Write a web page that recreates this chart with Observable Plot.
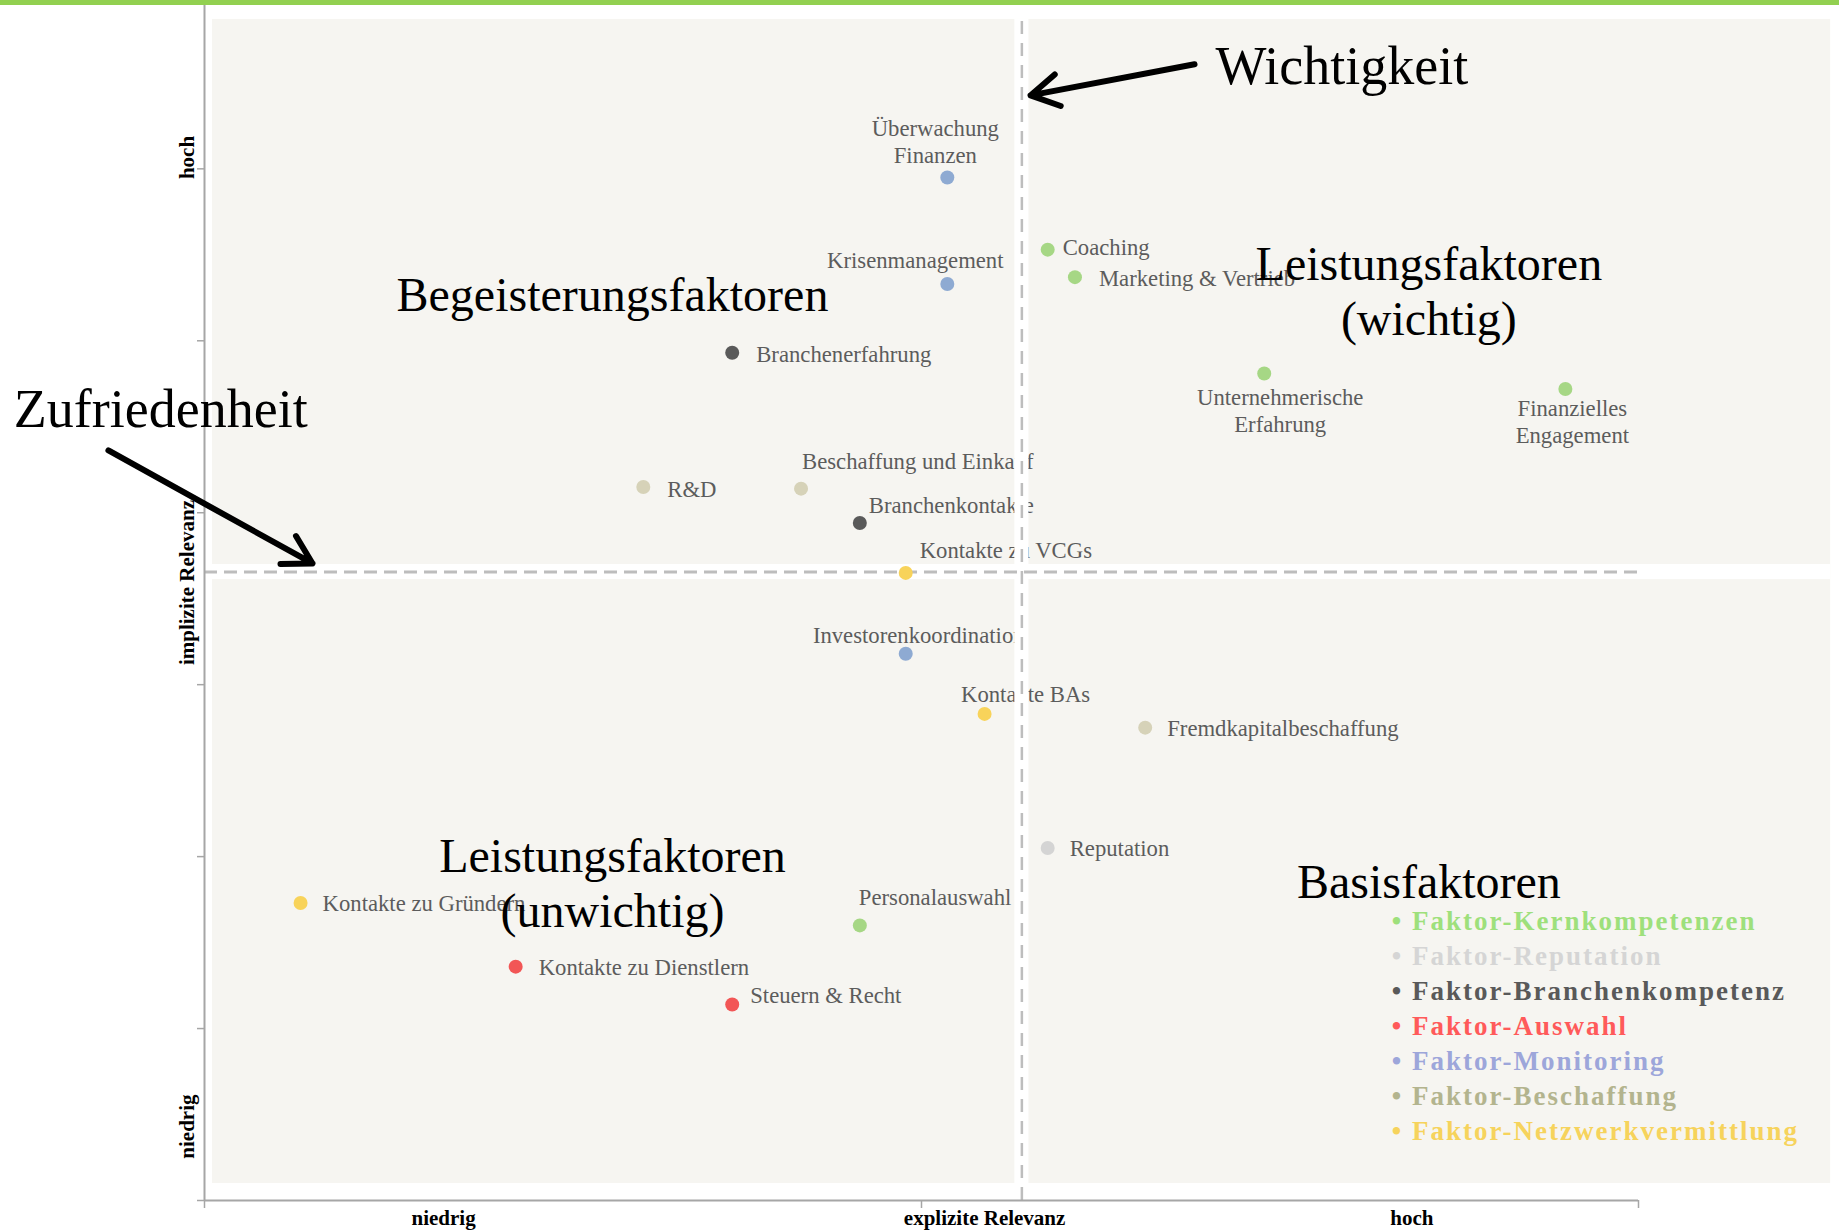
<!DOCTYPE html>
<html>
<head>
<meta charset="utf-8">
<script src="https://cdn.jsdelivr.net/npm/d3@7"></script>
<script src="https://cdn.jsdelivr.net/npm/@observablehq/plot@0.6"></script>
<style>
  html, body { margin: 0; padding: 0; background: #ffffff; }
  #bar { height: 5px; background: #92D050; }
  #chart svg { display: block; }
  .legendtxt text { letter-spacing: 2px; }
</style>
</head>
<body>
<div id="bar"></div>
<div id="chart"></div>
<script>
// ---------- data ----------
const factorNames = [
  "Überwachung\nFinanzen", "Krisenmanagement", "Coaching", "Marketing & Vertrieb",
  "Unternehmerische\nErfahrung", "Finanzielles\nEngagement", "Branchenerfahrung", "R&D",
  "Beschaffung und Einkauf", "Branchenkontakte", "Kontakte zu VCGs", "Investorenkoordination",
  "Kontakte BAs", "Fremdkapitalbeschaffung", "Reputation", "Personalauswahl",
  "Kontakte zu Gründern", "Kontakte zu Dienstlern", "Steuern & Recht"
];
// explizite Relevanz (x)
const explizit = [5.18, 5.18, 5.88, 6.07, 7.39, 9.49, 3.68, 3.06, 4.16, 4.57, 4.89, 4.89, 5.44, 6.56, 5.88, 4.57, 0.67, 2.17, 3.68];
// implizite Relevanz (y)
const implizit = [5.95, 5.33, 5.53, 5.37, 4.81, 4.72, 4.93, 4.15, 4.14, 3.94, 3.65, 3.18, 2.83, 2.75, 2.05, 1.60, 1.73, 1.36, 1.14];
const factorGroups = [
  "Faktor-Monitoring", "Faktor-Monitoring", "Faktor-Kernkompetenzen", "Faktor-Kernkompetenzen",
  "Faktor-Kernkompetenzen", "Faktor-Kernkompetenzen", "Faktor-Branchenkompetenz", "Faktor-Beschaffung",
  "Faktor-Beschaffung", "Faktor-Branchenkompetenz", "Faktor-Netzwerkvermittlung", "Faktor-Monitoring",
  "Faktor-Netzwerkvermittlung", "Faktor-Beschaffung", "Faktor-Reputation", "Faktor-Kernkompetenzen",
  "Faktor-Netzwerkvermittlung", "Faktor-Auswahl", "Faktor-Auswahl"
];
const groupNames = [
  "Faktor-Kernkompetenzen", "Faktor-Reputation", "Faktor-Branchenkompetenz", "Faktor-Auswahl",
  "Faktor-Monitoring", "Faktor-Beschaffung", "Faktor-Netzwerkvermittlung"
];
const dotColors = ["#A6D785", "#D4D4D4", "#5A5A5A", "#F25656", "#8EAAD2", "#D6D2B8", "#F8D35A"];
const legendColors = ["#9EE07C", "#D5D5D5", "#595959", "#FF5A5A", "#9DA6DA", "#B3B48E", "#F6D35C"];

// axis tick labels
const xTickLabels = ["niedrig", "explizite Relevanz", "hoch"];
const xTickPos = [1.667, 5.44, 8.42];
const yTickLabels = ["hoch", "implizite Relevanz", "niedrig"];
const yTickPos = [6.066, 3.594, 0.43];

// quadrant thresholds
const xMid = 5.70;
const yMid = 3.655;

// annotations
const annotationTexts = ["Wichtigkeit", "Zufriedenheit", "Begeisterungsfaktoren",
  "Leistungsfaktoren\n(wichtig)", "Leistungsfaktoren\n(unwichtig)", "Basisfaktoren"];
const annotationX = [7.05, -1.33, 2.845, 8.538, 2.845, 8.538];
const annotationY = [6.496, 4.496, 5.176, 5.031, 1.588, 1.762];
const arrowFrom = [[6.904, 6.608], [-0.67, 4.362]];
const arrowTo = [[5.760, 6.427], [0.753, 3.705]];

// ---------- layout (label offsets in px) ----------
const labelLayout = {
  "Überwachung\nFinanzen": [-12, -14, "middle"],
  "Krisenmanagement": [-32, -16, "middle"],
  "Coaching": [15, 5, "start"],
  "Marketing & Vertrieb": [24, 9, "start"],
  "Unternehmerische\nErfahrung": [16, 59, "middle"],
  "Finanzielles\nEngagement": [7, 54, "middle"],
  "Branchenerfahrung": [24, 9, "start"],
  "R&D": [24, 10, "start"],
  "Beschaffung und Einkauf": [1, -20, "start"],
  "Branchenkontakte": [9, -10, "start"],
  "Kontakte zu VCGs": [14, -15, "start"],
  "Investorenkoordination": [13, -11, "middle"],
  "Kontakte BAs": [41, -12, "middle"],
  "Fremdkapitalbeschaffung": [22, 8, "start"],
  "Reputation": [22, 8, "start"],
  "Personalauswahl": [-1, -20, "start"],
  "Kontakte zu Gründern": [22, 8, "start"],
  "Kontakte zu Dienstlern": [23, 8, "start"],
  "Steuern & Recht": [18, -1, "start"]
};

const SERIF = "'Liberation Serif', 'Times New Roman', Times, serif";

const factors = factorNames.map((name, i) => ({
  name, x: explizit[i], y: implizit[i], group: factorGroups[i]
}));

const yTop = 6.95;
const panel = {x1: 0.056, x2: 11.34, y1: 0.099, y2: 6.869};
const gapHalfX = 0.049, gapHalfY = 0.044;

const labelMarks = factors.map(d => {
  const [dx, dy, anchor] = labelLayout[d.name];
  return Plot.text([d], {
    x: "x", y: "y", text: "name", dx, dy, textAnchor: anchor, lineAnchor: "bottom",
    lineHeight: 1.2, fontSize: 22.7, fontFamily: SERIF, fill: "#5C5C5C"
  });
});

const legendMarks = groupNames.map((g, i) => Plot.text([g], {
  x: () => 8.28, y: () => 1.576 - i * 0.204, text: d => "• " + d,
  textAnchor: "start", lineAnchor: "bottom", fontSize: 27, fontWeight: "bold",
  fontFamily: SERIF, fill: legendColors[i], className: "legendtxt"
}));

const annStyle = (i, size, anchor, lh) => Plot.text([annotationTexts[i]], {
  x: () => annotationX[i], y: () => annotationY[i], text: d => d,
  textAnchor: anchor, lineAnchor: "bottom", lineHeight: lh || 1.15,
  fontSize: size, fontFamily: SERIF, fill: "#000"
});

const xLabelMap = new Map(xTickPos.map((p, i) => [p, xTickLabels[i]]));
const yLabelMap = new Map(yTickPos.map((p, i) => [p, yTickLabels[i]]));

const chart = Plot.plot({
  width: 1839,
  height: 1226,
  marginLeft: 204,
  marginRight: 201,
  marginTop: 0,
  marginBottom: 31,
  x: {domain: [0, 10], axis: null},
  y: {domain: [0, yTop], axis: null},
  color: {domain: groupNames, range: dotColors},
  style: {background: "#ffffff", fontFamily: SERIF, overflow: "visible"},
  marks: [
    // panel background
    Plot.rect([panel], {x1: "x1", x2: "x2", y1: "y1", y2: "y2", fill: "#F6F5F1"}),
    // point labels
    ...labelMarks,
    // white gaps between quadrants
    Plot.rect([{x1: xMid - gapHalfX, x2: xMid + gapHalfX, y1: 0.0, y2: panel.y2}],
      {x1: "x1", x2: "x2", y1: "y1", y2: "y2", fill: "#ffffff"}),
    Plot.rect([{x1: panel.x1, x2: panel.x2, y1: yMid - gapHalfY, y2: yMid + gapHalfY}],
      {x1: "x1", x2: "x2", y1: "y1", y2: "y2", fill: "#ffffff"}),
    // dashed threshold lines
    Plot.ruleY([yMid], {x1: 0, x2: 10, stroke: "#BDBDBD", strokeWidth: 3, strokeDasharray: "13,7"}),
    Plot.ruleX([xMid], {y1: 0, y2: panel.y2, stroke: "#BDBDBD", strokeWidth: 2.5, strokeDasharray: "13,9"}),
    // axis lines and ticks
    Plot.ruleX([0], {y1: 0, y2: yTop, stroke: "#A6A6A6", strokeWidth: 2}),
    Plot.ruleY([0], {x1: 0, x2: 10, stroke: "#A6A6A6", strokeWidth: 2}),
    Plot.axisY({ticks: [0, 1, 2, 3, 4, 5, 6], tickSize: 7, tickFormat: () => "", stroke: "#A6A6A6", strokeWidth: 1.5, label: null}),
    Plot.axisX({ticks: [0, 5, 10], tickSize: 8, tickFormat: () => "", stroke: "#A6A6A6", strokeWidth: 1.5, label: null}),
    Plot.axisX({ticks: xTickPos, tickFormat: d => xLabelMap.get(d), tickSize: 0, tickPadding: 10,
      fontSize: 21, fontWeight: "bold", fontFamily: SERIF, fill: "#000", label: null}),
    Plot.axisY({ticks: yTickPos, tickFormat: d => yLabelMap.get(d), tickSize: 0, tickRotate: -90, tickPadding: 11,
      fontSize: 21, fontWeight: "bold", fontFamily: SERIF, fill: "#000", label: null}),
    // dots
    Plot.dot(factors, {x: "x", y: "y", fill: "group", r: 7}),
    // quadrant annotations
    annStyle(0, 54, "start"),
    annStyle(1, 54, "start"),
    annStyle(2, 48, "middle"),
    annStyle(3, 48, "middle", 1.146),
    annStyle(4, 48, "middle", 1.146),
    annStyle(5, 48, "middle"),
    // legend
    ...legendMarks,
    // arrows
    Plot.arrow([0, 1], {
      x1: i => arrowFrom[i][0], y1: i => arrowFrom[i][1],
      x2: i => arrowTo[i][0], y2: i => arrowTo[i][1],
      stroke: "#000", strokeWidth: 6, headLength: 8, headAngle: 60
    })
  ]
});

document.getElementById("chart").appendChild(chart);
</script>
</body>
</html>
